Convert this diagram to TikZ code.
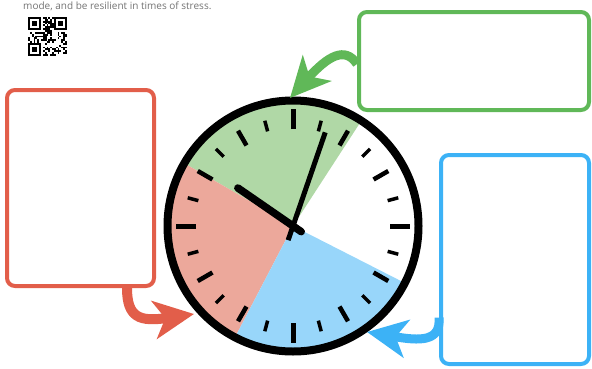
\documentclass[tikz,border=0pt]{standalone}
\usepackage{fontspec}
\setmainfont{Open Sans}
\usetikzlibrary{arrows.meta, positioning, calc}

\definecolor{redline}{RGB}{226,94,74}
\definecolor{redfill}{RGB}{236,168,155}
\definecolor{grnline}{RGB}{96,184,88}
\definecolor{grnfill}{RGB}{176,216,166}
\definecolor{bluline}{RGB}{60,178,246}
\definecolor{blufill}{RGB}{152,214,250}

\begin{document}
\begin{tikzpicture}[
    x=1pt, y=1pt,
    card/.style={draw, line width=4pt, rounded corners=8pt, inner sep=0pt,
                 fill=white},
    swoosh/.style={line width=9pt,
                   -{Stealth[length=40pt, width=38pt, inset=11pt]}},
    longtick/.style={line width=5pt},
    hourtick/.style={line width=4.5pt},
    minitick/.style={line width=3.5pt}
  ]
  \useasboundingbox (0,0) rectangle (592,368);

  % line of text at the top
  \node[anchor=base west, inner sep=0pt, font=\fontsize{10}{12}\selectfont,
        text=black!55] (topline) at (23,359)
    {mode, and be resilient in times of stress.};

  % QR code
  \def\qrm{1.85}
  \pgfmathsetseed{17}
  \foreach \i in {0,...,20} {
    \foreach \j in {0,...,20} {
      \pgfmathtruncatemacro\bit{rnd+0.45}
      \ifnum\bit=1
        \fill (28+\i*\qrm, 351-\j*\qrm) rectangle ++(\qrm,-\qrm);
      \fi
    }
  }
  \foreach \fx/\fy in {0/0, 14/0, 0/14} {
    \fill[white] (28+\fx*\qrm-\qrm*0.01, 351-\fy*\qrm) rectangle ++(7*\qrm+\qrm,-7*\qrm-\qrm);
    \fill (28+\fx*\qrm, 351-\fy*\qrm) rectangle ++(7*\qrm,-7*\qrm);
    \fill[white] (28+\fx*\qrm+\qrm, 351-\fy*\qrm-\qrm) rectangle ++(5*\qrm,-5*\qrm);
    \fill (28+\fx*\qrm+2*\qrm, 351-\fy*\qrm-2*\qrm) rectangle ++(3*\qrm,-3*\qrm);
  }

  % clock face sectors
  \coordinate (ctr) at (293,142);
  \fill[grnfill] (ctr) -- ++(57:125) arc[start angle=57, end angle=150, radius=125] -- cycle;
  \fill[redfill] (ctr) -- ++(150:125) arc[start angle=150, end angle=242.5, radius=125] -- cycle;
  \fill[blufill] (ctr) -- ++(242.5:125) arc[start angle=242.5, end angle=333, radius=125] -- cycle;
  \node[circle, draw, line width=8pt, minimum size=251pt, inner sep=0pt] (clock) at (ctr) {};

  % ticks
  \foreach \a in {0,90,180,270}
    \draw[longtick] ($(ctr)+(\a:97)$) -- ($(ctr)+(\a:117)$);
  \foreach \a in {30,60,120,150,210,240,300,330}
    \draw[hourtick] ($(ctr)+(\a:93)$) -- ($(ctr)+(\a:110)$);
  \foreach \a in {15,45,...,345}
    \draw[minitick] ($(ctr)+(\a:98)$) -- ($(ctr)+(\a:109)$);

  % hands
  \draw[line width=7.5pt, line cap=round] ($(ctr)+(325.4:10)$) -- ($(ctr)+(145.4:67)$);
  \draw[line width=5pt] ($(ctr)+(251:15)$) -- ($(ctr)+(71:99)$);

  % boxes
  \node[card, draw=redline, minimum width=147pt, minimum height=196pt] (redbox) at (80.5,180) {};
  \node[card, draw=grnline, minimum width=230pt, minimum height=98pt] (grnbox) at (474,307) {};
  \node[card, draw=bluline, minimum width=148pt, minimum height=209pt] (blubox) at (515,108.5) {};

  % arrows
  \coordinate (rtip) at (194,54);
  \coordinate (gtip) at (290,270);
  \coordinate (btip) at (367,36);
  \draw[swoosh, redline, line width=10pt] ([xshift=46.5pt]redbox.south)
    .. controls +(0,-30) and (140,46) .. (rtip);
  \draw[swoosh, grnline] ([yshift=-3pt]grnbox.west)
    .. controls (345,322) and (328,312) .. (gtip);
  \draw[swoosh, bluline] ([yshift=-58pt]blubox.west)
    .. controls (441,26) and (420,27) .. (btip);
\end{tikzpicture}
\end{document}
